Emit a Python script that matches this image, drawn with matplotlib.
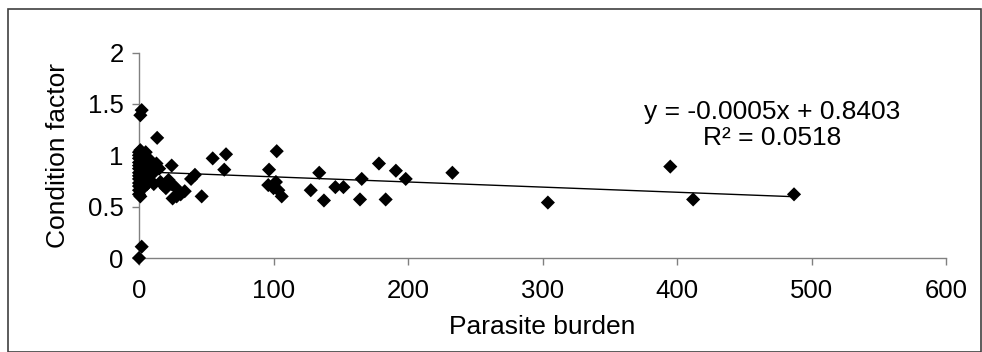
import matplotlib
matplotlib.use("Agg")
import matplotlib.pyplot as plt
from matplotlib.patches import Rectangle
import numpy as np

plt.rcParams['font.family'] = ['Liberation Sans', 'DejaVu Sans']

# Parasite burden vs condition factor, one entry per fish
parasite_burden = [
    0, 0, 0, 0, 0, 0, 0, 0, 0, 0, 0, 0, 0, 1, 1, 2, 2, 0,
    1, 2, 2, 2, 2, 2, 3, 3, 3, 4, 4, 4, 5, 5, 6, 6, 7, 8, 8, 9, 10, 11, 12,
    13, 15, 13.5, 16, 18, 20, 22, 24, 27, 28, 30, 34, 25, 31,
    38.7, 41.6, 46.6, 24.3, 54.8, 64.7, 63.4,
    102.4, 96.7, 96.1, 101.8, 103.6, 106.1, 100,
    134, 127.7, 137.5, 146, 152, 165.6, 164.3, 178.4, 191, 198.3, 183.4,
    233, 304, 395, 412, 487,
]
condition_factor = [
    1.03, 1.00, 0.97, 0.93, 0.90, 0.87, 0.83, 0.80, 0.77, 0.73, 0.70, 0.66, 0.62, 0.60, 1.39, 1.44, 0.11, 0.00,
    1.05, 0.98, 0.92, 0.85, 0.78, 0.72, 0.68, 0.88, 1.01, 0.95, 0.82, 0.75, 1.03, 0.90, 0.80, 0.72, 0.97, 0.86, 0.76, 0.93, 0.82, 0.72, 0.90,
    0.92, 0.87, 1.17, 0.74, 0.71, 0.68, 0.76, 0.72, 0.69, 0.60, 0.63, 0.65, 0.58, 0.62,
    0.77, 0.81, 0.60, 0.90, 0.97, 1.01, 0.86,
    1.04, 0.86, 0.71, 0.74, 0.66, 0.60, 0.68,
    0.83, 0.66, 0.56, 0.69, 0.69, 0.77, 0.57, 0.92, 0.85, 0.77, 0.57,
    0.83, 0.54, 0.89, 0.57, 0.62,
]

# Linear trend as reported in the equation label
slope = -0.0005
intercept = 0.8403
r_squared = 0.0518

x_ticks = [0, 100, 200, 300, 400, 500, 600]
y_ticks = [0, 0.5, 1, 1.5, 2]
y_tick_labels = ['0', '0.5', '1', '1.5', '2']

W, H = 982, 352
fig = plt.figure(figsize=(W / 100, H / 100), dpi=100)
ax = fig.add_axes([139 / W, 1 - 258 / H, (946 - 139) / W, (258 - 52.6) / H])

axis_grey = '#808080'
ax.scatter(parasite_burden, condition_factor, marker='D', s=7.2 ** 2,
           color='black', edgecolors='none', zorder=3, clip_on=False)

x_fit = np.array([0, max(parasite_burden)])
ax.plot(x_fit, slope * x_fit + intercept, color='black', lw=1.0, zorder=2)

ax.set_xlim(0, 600)
ax.set_ylim(0, 2)
ax.set_xticks(x_ticks)
ax.set_yticks(y_ticks)
ax.set_yticklabels(y_tick_labels)

for side in ('top', 'right'):
    ax.spines[side].set_visible(False)
for side in ('left', 'bottom'):
    ax.spines[side].set_color(axis_grey)
    ax.spines[side].set_linewidth(1.0)

ax.tick_params(axis='both', direction='out', length=5, width=1.0,
               color=axis_grey, labelsize=18.5, labelcolor='black')
ax.tick_params(axis='x', pad=10)
ax.tick_params(axis='y', pad=6)

ax.set_xlabel('Parasite burden', fontsize=19, labelpad=9)
ax.set_ylabel('Condition factor', fontsize=19, labelpad=13)

ax.text(471, 1.42, f'y = {slope:.4f}x + {intercept:.4f}', fontsize=19,
        ha='center', va='center')
ax.text(471, 1.165, f'R² = {r_squared:.4f}', fontsize=19,
        ha='center', va='center')

# Chart-area border
fig.patches.append(Rectangle((8 / W, 0.5 / H), (W - 9) / W, (H - 9.5) / H,
                             transform=fig.transFigure, fill=False,
                             edgecolor='#404040', lw=1.2))

fig.savefig('out.png', dpi=100)
